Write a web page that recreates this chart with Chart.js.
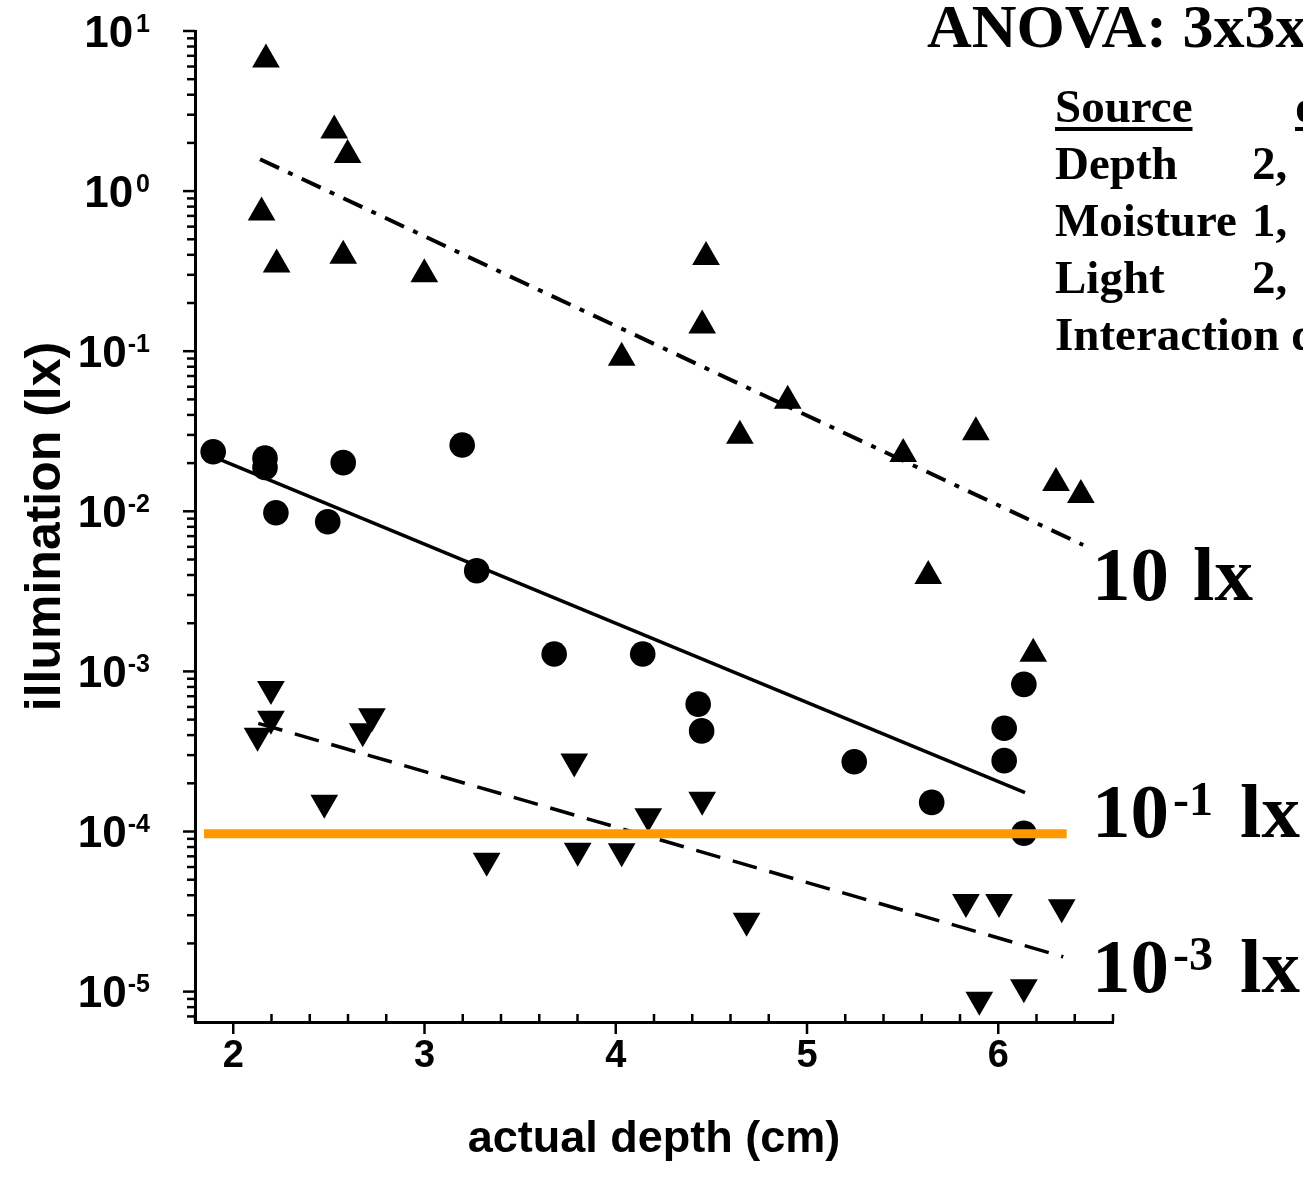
<!DOCTYPE html>
<html><head><meta charset="utf-8">
<script src="https://cdn.jsdelivr.net/npm/chart.js@4.4.0/dist/chart.umd.min.js"></script>
<style>html,body{margin:0;padding:0;background:#fff;}#wrap{width:1303px;height:1184px;}canvas{display:block;}</style>
</head><body><div id="wrap"><canvas id="c" width="1303" height="1184"></canvas></div>
<script>
// ---------- data ----------
const upX   = [2.171, 2.528, 2.598, 2.148, 2.227, 2.575, 2.999, 4.031, 4.472, 4.452, 4.649, 4.899, 5.503, 5.883, 6.302, 6.432, 5.634, 6.183];
const upY   = [6.64, 2.39, 1.68, 0.734, 0.348, 0.394, 0.302, 0.091, 0.388, 0.1445, 0.0296, 0.0491, 0.0228, 0.0312, 0.01503, 0.01265, 0.00394, 0.00129];
const circX = [1.895, 2.166, 2.166, 2.575, 3.197, 2.223, 2.494, 3.273, 3.678, 4.141, 4.431, 4.449, 5.247, 5.652, 6.031, 6.031, 6.134, 6.134];
const circY = [0.02355, 0.02148, 0.0188, 0.02013, 0.02595, 0.0098, 0.00861, 0.004257, 0.001285, 0.001285, 6.25e-4, 4.25e-4, 2.73e-4, 1.52e-4, 4.42e-4, 2.77e-4, 8.3e-4, 9.75e-5];
const downX = [2.197, 2.197, 2.127, 2.725, 2.677, 2.476, 3.325, 3.783, 3.801, 4.031, 4.170, 4.452, 4.684, 5.831, 6.004, 6.332, 5.901, 6.134];
const downY = [7.76e-4, 5.07e-4, 3.97e-4, 5.25e-4, 4.23e-4, 1.51e-4, 6.57e-5, 2.74e-4, 7.59e-5, 7.52e-5, 1.245e-4, 1.58e-4, 2.77e-5, 3.63e-5, 3.63e-5, 3.36e-5, 8.9e-6, 1.064e-5];
const fitUpX   = [2.140, 6.444];  const fitUpY   = [1.582, 6.16e-3];
const fitCircX = [1.894, 6.140];  const fitCircY = [0.02193, 1.747e-4];
const fitDownX = [2.131, 6.340];  const fitDownY = [4.74e-4, 1.65e-5];
const thresholdX = [1.847, 6.358]; const thresholdY = [9.7e-5, 9.7e-5];
const xTickValues = [2, 3, 4, 5, 6];
const xTickLabels = ['2', '3', '4', '5', '6'];
const yTickExponents = [1, 0, -1, -2, -3, -4, -5];
const xTitle = 'actual depth (cm)';
const yTitle = 'illumination (lx)';
const anovaTitle = 'ANOVA: 3x3x';
const anovaHeader = ['Source', 'df'];
const anovaRows = ['Depth', 'Moisture', 'Light', 'Interaction'];
const anovaDf = ['2,', '1,', '2,', 'd'];
const lightBase = ['10', '10', '10'];
const lightExp = ['', '-1', '-3'];
const lightUnit = 'lx';

// ---------- helpers ----------
const pts = (xs, ys) => xs.map((x, i) => ({x: x, y: ys[i]}));
const SANS = '"Liberation Sans", Arial, sans-serif';
const SERIF = '"Liberation Serif", "Times New Roman", serif';

const decor = {
  id: 'decor',
  afterDraw(chart) {
    const c = chart.ctx, ca = chart.chartArea, xs = chart.scales.x, ys = chart.scales.y;
    c.save();
    c.strokeStyle = '#000'; c.lineWidth = 2.5; c.lineCap = 'butt';
    // y ticks (outside)
    ys.ticks.forEach(t => {
      const y = ys.getPixelForValue(t.value);
      const lg = Math.log10(t.value);
      const major = Math.abs(lg - Math.round(lg)) < 1e-6;
      c.beginPath(); c.moveTo(ca.left, y); c.lineTo(ca.left - (major ? 12 : 8), y); c.stroke();
    });
    // x ticks: major outside, minor inside
    xs.ticks.forEach(t => {
      const x = xs.getPixelForValue(t.value);
      const major = Math.abs(t.value - Math.round(t.value)) < 1e-6;
      c.beginPath();
      if (major) { c.moveTo(x, ca.bottom); c.lineTo(x, ca.bottom + 12); }
      else { c.moveTo(x, ca.bottom); c.lineTo(x, ca.bottom - 8); }
      c.stroke();
    });
    // y tick labels with superscripts
    c.fillStyle = '#000'; c.textBaseline = 'alphabetic'; c.textAlign = 'left';
    const baseFont = 'bold 44px ' + SANS, supFont = 'bold 25px ' + SANS;
    yTickExponents.forEach(e => {
      const y = ys.getPixelForValue(Math.pow(10, e));
      const sup = e < 0 ? '-' + Math.abs(e) : String(e);
      c.font = baseFont; const wb = c.measureText('10').width;
      c.font = supFont; const ws = c.measureText(sup).width;
      const right = 150, gap = e < 0 ? 1 : 3;
      const x0 = right - ws - gap - wb;
      c.font = baseFont; c.fillText('10', x0, y + 15.7);
      c.font = supFont; c.fillText(sup, x0 + wb + gap, y + 0.7);
    });
    // ANOVA title + table
    c.font = 'bold 62px ' + SERIF;
    c.fillText(anovaTitle, 927, 47);
    c.font = 'bold 47px ' + SERIF;
    c.fillText(anovaHeader[0], 1055, 121.7);
    let w = c.measureText(anovaHeader[0]).width;
    c.fillRect(1055, 127, w, 4);
    c.fillText(anovaHeader[1], 1295, 121.7);
    w = c.measureText(anovaHeader[1]).width;
    c.fillRect(1295, 127, w, 4);
    const dfX = [1252, 1252, 1252, 1291];
    anovaRows.forEach((r, i) => {
      const yb = 179.3 + i * 57;
      c.fillText(r, 1055, yb);
      c.fillText(anovaDf[i], dfX[i], yb);
    });
    // light level labels
    const lBase = 'bold 77px ' + SERIF, lSup = 'bold 48px ' + SERIF;
    const baselines = [600, 836.7, 991.7];
    lightBase.forEach((b, i) => {
      const yb = baselines[i];
      c.font = lBase; c.fillText(b, 1092, yb);
      const wb = c.measureText(b).width;
      if (lightExp[i]) {
        c.font = lSup; c.fillText(lightExp[i], 1092 + wb + 4, yb - 21.7);
        c.font = lBase; c.fillText(lightUnit, 1240, yb);
      } else {
        c.font = lBase; c.fillText(lightUnit, 1193, yb);
      }
    });
    c.restore();
  }
};

new Chart(document.getElementById('c'), {
  type: 'scatter',
  data: {
    datasets: [
      {label: 'threshold', data: pts(thresholdX, thresholdY), showLine: true, borderColor: '#ff9900', borderWidth: 9,
       borderCapStyle: 'butt', pointRadius: 0, order: 0},
      {label: 'light 10 lx', data: pts(upX, upY), pointStyle: 'triangle', pointRadius: 16, pointHoverRadius: 16,
       backgroundColor: '#000', borderColor: '#000', borderWidth: 0, order: 1},
      {label: 'light 0.1 lx', data: pts(circX, circY), pointStyle: 'circle', pointRadius: 12.8, pointHoverRadius: 12.8,
       backgroundColor: '#000', borderColor: '#000', borderWidth: 0, order: 1},
      {label: 'light 0.001 lx', data: pts(downX, downY), pointStyle: 'triangle', pointRotation: 180, pointRadius: 16, pointHoverRadius: 16,
       backgroundColor: '#000', borderColor: '#000', borderWidth: 0, order: 1},
      {label: 'fit 10 lx', data: pts(fitUpX, fitUpY), showLine: true, borderColor: '#000', borderWidth: 4,
       borderDash: [21, 10, 5, 10], pointRadius: 0, order: 2},
      {label: 'fit 0.1 lx', data: pts(fitCircX, fitCircY), showLine: true, borderColor: '#000', borderWidth: 3.5,
       pointRadius: 0, order: 2},
      {label: 'fit 0.001 lx', data: pts(fitDownX, fitDownY), showLine: true, borderColor: '#000', borderWidth: 3.5,
       borderDash: [25, 13], pointRadius: 0, order: 2}
    ]
  },
  options: {
    responsive: false, animation: false, devicePixelRatio: 1,
    layout: {padding: {top: 31, right: 190, left: 0, bottom: 0}},
    plugins: {legend: {display: false}, tooltip: {enabled: false}},
    scales: {
      x: {
        type: 'linear', min: 1.8, max: 6.6,
        afterFit(s) { s.height = 162; },
        afterBuildTicks(s) {
          const t = [];
          for (let k = 0; k <= 24; k++) t.push({value: Math.round((1.8 + 0.2 * k) * 10) / 10});
          s.ticks = t;
        },
        grid: {display: false, drawTicks: false},
        border: {display: true, color: '#000', width: 3},
        ticks: {
          autoSkip: false, maxRotation: 0, padding: 12, color: '#000',
          font: {family: SANS, size: 38, weight: 'bold'},
          callback(v) { const i = xTickValues.indexOf(Math.round(v * 10) / 10); return i >= 0 ? xTickLabels[i] : ''; }
        },
        title: {display: true, text: xTitle, color: '#000', padding: {top: 0, bottom: 23},
                font: {family: SANS, size: 45, weight: 'bold', lineHeight: 0.95}}
      },
      y: {
        type: 'logarithmic', min: 6.46e-6, max: 10,
        afterFit(s) { s.width = 195; },
        afterBuildTicks(s) {
          const t = [];
          for (let e = -6; e <= 1; e++) for (let m = 1; m <= 9; m++) {
            const v = m * Math.pow(10, e);
            if (v >= s.min * 0.999 && v <= s.max * 1.001) t.push({value: v});
          }
          s.ticks = t;
        },
        grid: {display: false, drawTicks: false},
        border: {display: true, color: '#000', width: 3},
        ticks: {display: false},
        title: {display: true, text: yTitle, color: '#000', padding: {top: 22, bottom: 0},
                font: {family: SANS, size: 50, weight: 'bold', lineHeight: 0.95}}
      }
    }
  },
  plugins: [decor]
});
</script></body></html>
